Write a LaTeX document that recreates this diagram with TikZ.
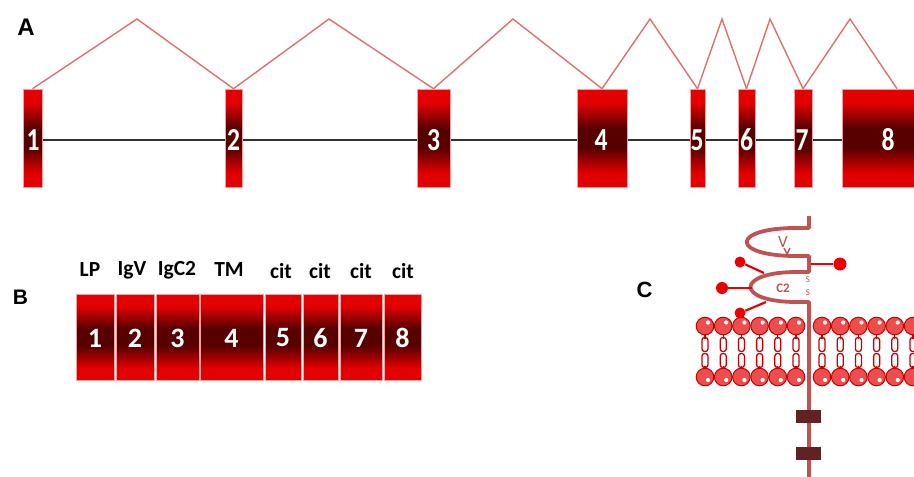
\documentclass[tikz,border=0pt]{standalone}
\usepackage{fontspec}
\setmainfont{Carlito}
\newfontfamily\panelfont{Liberation Sans}
\usetikzlibrary{backgrounds}

\definecolor{exred}{RGB}{226,0,0}
\definecolor{exdark}{RGB}{88,0,0}
\definecolor{exedge}{RGB}{242,160,160}
\definecolor{splice}{RGB}{222,112,112}
\definecolor{intron}{RGB}{50,50,50}
\definecolor{prot}{RGB}{192,82,82}
\definecolor{glyco}{RGB}{236,0,0}
\definecolor{headfill}{RGB}{236,78,78}
\definecolor{headline}{RGB}{200,0,0}
\definecolor{cytobox}{RGB}{96,34,34}

% bright red at both ends, dark band in the middle (the node spans 25bp to 75bp)
\pgfdeclareverticalshading{exonshade}{100bp}{%
  color(0bp)=(exred); color(32bp)=(exred); color(45bp)=(exdark);
  color(55bp)=(exdark); color(68bp)=(exred); color(100bp)=(exred)}

\tikzset{
  exon/.style={rectangle, inner sep=0pt, shading=exonshade, draw=exedge,
    line width=0.6pt, text=white},
  exonnum/.style={font=\bfseries\fontsize{32}{32}\selectfont},
  domnum/.style={font=\bfseries\fontsize{28}{28}\selectfont},
  domlabel/.style={font=\bfseries\fontsize{21.5}{21.5}\selectfont, text=black, inner sep=0pt},
  panel/.style={font=\panelfont\bfseries\fontsize{24}{24}\selectfont, inner sep=0pt},
  spliceline/.style={draw=splice, line width=1.4pt, line join=miter},
  intronline/.style={draw=intron, line width=2pt},
  protline/.style={draw=prot, line width=3.8pt, line join=round},
  glycoline/.style={draw=glyco, line width=2.2pt},
  glycoball/.style={circle, fill=glyco, inner sep=0pt},
  head/.style={draw=headline, fill=headfill, line width=1pt},
  tail/.style={draw=headline, line width=1.3pt, rounded corners=2.6pt},
  cyto/.style={rectangle, fill=cytobox, inner sep=0pt, minimum width=25pt, minimum height=13pt},
  protlabel/.style={text=prot, inner sep=0pt},
}

\begin{document}
\begin{tikzpicture}[x=1pt,y=-1pt]
\useasboundingbox (0,0) rectangle (914,477);

% ---------------- A: gene structure ----------------
\node[panel] (lA) at (26,27.5) {A};

\node[exon, minimum width=19pt, minimum height=98pt] (e1) at (32.5,138) {};
\node[exon, minimum width=17pt, minimum height=98pt] (e2) at (233.5,138) {};
\node[exon, minimum width=33pt, minimum height=98pt] (e3) at (433.5,138) {};
\node[exon, minimum width=50pt, minimum height=98pt] (e4) at (602,138) {};
\node[exon, minimum width=15pt, minimum height=98pt] (e5) at (697.5,138) {};
\node[exon, minimum width=17pt, minimum height=98pt] (e6) at (746.5,138) {};
\node[exon, minimum width=18pt, minimum height=98pt] (e7) at (803,138) {};
\node[exon, minimum width=92pt, minimum height=98pt] (e8) at (888,138) {};

% intron backbone under the exons
\begin{scope}[on background layer]
  \draw[intronline] ([yshift=-2pt]e1.center) -- ([yshift=-2pt]e8.center);
\end{scope}

% exon numbers
\foreach \n/\xx in {1/33,2/233.5,3/433.5,4/601,5/697,6/746.5,7/802,8/888}
  \node[exonnum, text=white, inner sep=0pt] (n\n) at (\xx,140) {\scalebox{0.8}[1]{\n}};

% splicing peaks
\coordinate (p1) at (137,19);
\coordinate (p2) at (329,19);
\coordinate (p3) at (513,19);
\coordinate (p4) at (650,19);
\coordinate (p5) at (722,19);
\coordinate (p6) at (770,19);
\coordinate (p7) at (850,19);
\coordinate (e8top) at ([xshift=9pt]e8.north);

\draw[spliceline] (e1.north) -- (p1) -- (e2.north);
\draw[spliceline] (e2.north) -- (p2) -- (e3.north);
\draw[spliceline] (e3.north) -- (p3) -- (e4.north);
\draw[spliceline] (e4.north) -- (p4) -- (e5.north);
\draw[spliceline] (e5.north) -- (p5) -- (e6.north);
\draw[spliceline] (e6.north) -- (p6) -- (e7.north);
\draw[spliceline] (e7.north) -- (p7) -- (e8top);

% ---------------- B: protein domains ----------------
\node[panel, font=\panelfont\bfseries\fontsize{21}{21}\selectfont] (lB) at (20.5,297.5) {B};

\foreach \n/\xx/\w in {1/95/38,2/135/38,3/177.5/43,4/231.5/63,5/283/36,6/320.5/35,7/361/42,8/402.5/37}
  \node[exon, minimum width=\w pt, minimum height=86pt] (d\n) at (\xx,337) {};
\foreach \n/\xx in {1/95,2/135,3/177.5,4/231.5,5/283,6/320.5,7/361,8/402.5}
  \node[domnum, text=white, inner sep=0pt] (dn\n) at (\xx,338) {\n};

\node[domlabel] (t1) at (90,270) {LP};
\node[domlabel] (t2) at (132,270) {IgV};
\node[domlabel] (t3) at (177,270) {IgC2};
\node[domlabel] (t4) at (229,270) {TM};
\node[domlabel] (t5) at (281,271) {cit};
\node[domlabel] (t6) at (320,271) {cit};
\node[domlabel] (t7) at (361,271) {cit};
\node[domlabel] (t8) at (403,271) {cit};

% ---------------- C: receptor in the membrane ----------------
\node[panel, font=\panelfont\bfseries\fontsize{22}{22}\selectfont] (lC) at (644.5,290) {C};

% lipid bilayer
\foreach \x in {705,723.2,741.4,759.6,777.8,796,822,840.2,858.4,876.6,894.8,913} {
  \draw[headline, line width=1.3pt] (\x,334) -- (\x,339);
  \draw[headline, line width=1.3pt] (\x,366) -- (\x,370);
  \draw[tail] (\x-3,337.5) rectangle (\x+3,351.5);
  \draw[tail] (\x-3,353.5) rectangle (\x+3,367.5);
  \draw[head] (\x,326) circle[radius=8.8pt];
  \draw[head] (\x,377) circle[radius=8.8pt];
  \fill[white] (\x+3,322.5) circle[radius=2.1pt];
  \fill[white] (\x+3,380) circle[radius=2.1pt];
}

% receptor chain with the V and C2 loops
\draw[protline] (809,216) -- (809,228) -- (800,228)
  .. controls (729,227) and (729,257) .. (800,256) -- (809,256) -- (809,272) -- (800,272)
  .. controls (734,271) and (734,303) .. (800,302) -- (809,302) -- (809,477);

\node[protlabel, font=\fontsize{17}{17}\selectfont] (vlab) at (783,242) {V};
\draw[draw=prot, line width=1.4pt] (784,248) -- (787,254) -- (790,248);
\node[protlabel, font=\bfseries\fontsize{13}{13}\selectfont] (c2lab) at (783,288) {C2};
\node[protlabel, font=\fontsize{9}{9}\selectfont] (s1) at (808,280) {S};
\node[protlabel, font=\fontsize{9}{9}\selectfont] (s2) at (808,293) {S};

% glycosylation sites
\node[glycoball, minimum size=11pt] (g1) at (740,262) {};
\node[glycoball, minimum size=13pt] (g2) at (840,264) {};
\node[glycoball, minimum size=12pt] (g3) at (722,288) {};
\node[glycoball, minimum size=11pt] (g4) at (740,313) {};
\coordinate (g1a) at (764,273);
\coordinate (g2a) at (811,264);
\coordinate (g3a) at (752,288);
\coordinate (g4a) at (766,302);
\draw[glycoline] (g1a) -- (g1);
\draw[glycoline] (g2a) -- (g2);
\draw[glycoline] (g3a) -- (g3);
\draw[glycoline] (g4a) -- (g4);

% cytoplasmic motifs
\node[cyto] (k1) at (808.5,416.5) {};
\node[cyto] (k2) at (808.5,453.5) {};

\end{tikzpicture}
\end{document}
